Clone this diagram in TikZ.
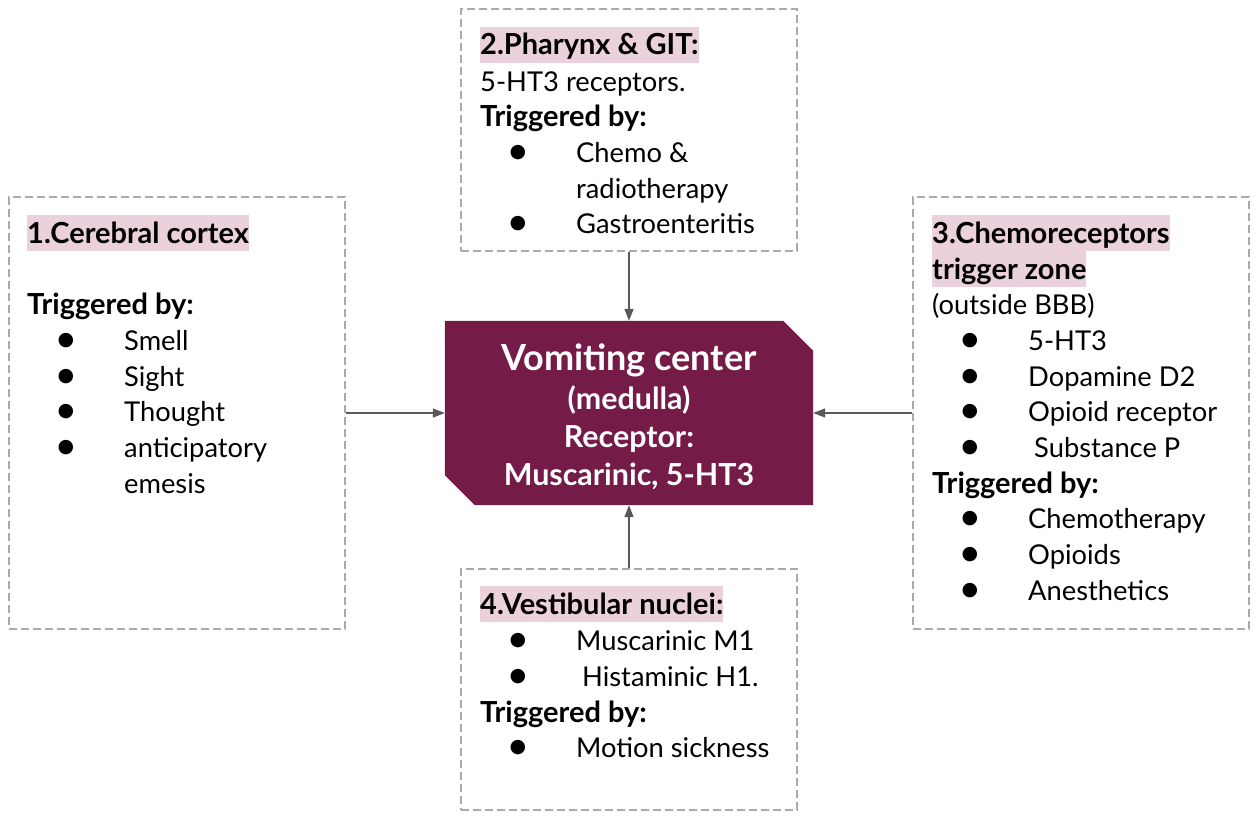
\documentclass[tikz,border=0pt]{standalone}
\usepackage{fontspec}
\setmainfont{Lato}
\newfontfamily\symfont{DejaVu Sans}
\usetikzlibrary{arrows.meta}
\definecolor{hl}{HTML}{EAD1DC}
\definecolor{vcol}{HTML}{741B47}
\definecolor{dashc}{HTML}{AAAAAA}
\definecolor{arrc}{HTML}{595959}
\begin{document}
\begin{tikzpicture}[x=1pt,y=-1pt,
 boxframe/.style={draw=dashc,line width=1.3pt,dash pattern=on 8pt off 4pt,minimum width=336pt,inner sep=0pt},
 txt/.style={anchor=base west,inner sep=0pt,font=\fontsize{27.3}{30}\selectfont},
 hd/.style={anchor=base west,inner sep=0pt,font=\fontsize{29}{32}\selectfont\bfseries},
 ttl/.style={hd,fill=hl,text height=28pt,text depth=8pt},
 bul/.style={anchor=base,inner sep=0pt,yshift=4.5pt,font=\symfont\fontsize{19}{22}\selectfont},
 ctr/.style={anchor=base,inner sep=0pt,text=white,font=\fontsize{30.4}{33}\selectfont\bfseries},
 arr/.style={draw=arrc,line width=1.5pt,-{Triangle[length=12pt,width=9pt]}}]
\useasboundingbox (0,0) rectangle (1257,816);
% frames
\node[boxframe,minimum height=432pt] (b1) at (177,413) {};
\node[boxframe,minimum height=242pt] (b2) at (629,130) {};
\node[boxframe,minimum height=432pt] (b3) at (1081,413) {};
\node[boxframe,minimum height=241pt] (b4) at (629,689.5) {};
% centre
\node[minimum width=368pt,minimum height=184pt,inner sep=0pt] (vc) at (629,413) {};
\fill[vcol] (vc.north west) -- ([xshift=-30pt]vc.north east) -- ([yshift=-30pt]vc.north east)
  -- (vc.south east) -- ([xshift=30pt]vc.south west) -- ([yshift=30pt]vc.south west) -- cycle;
\node[ctr,font=\fontsize{36}{39}\selectfont\bfseries] (v1) at (629,370) {Vomiting center};
\node[ctr] (v2) at (629,409) {(medulla)};
\node[ctr] (v3) at (629,447) {Receptor:};
\node[ctr] (v4) at (629,485) {Muscarinic, 5-HT3};
% arrows
\draw[arr] (b1.east) -- (vc.west);
\draw[arr] (b3.west) -- (vc.east);
\draw[arr] (b2.south) -- (vc.north);
\draw[arr] (b4.north) -- (vc.south);
% box 1
\node[ttl] (t1) at (27,243) {1.Cerebral cortex};
\node[hd] (t1b) at (27,314) {Triggered by:};
\node[bul] (p1a) at (66,350) {●}; \node[txt] (i1a) at (124,350) {Smell};
\node[bul] (p1b) at (66,386) {●}; \node[txt] (i1b) at (124,386) {Sight};
\node[bul] (p1c) at (66,421) {●}; \node[txt] (i1c) at (124,421) {Thought};
\node[bul] (p1d) at (66,457) {●}; \node[txt] (i1d) at (124,457) {anticipatory};
\node[txt] (i1e) at (124,493) {emesis};
% box 2
\node[ttl] (t2) at (480,55) {2.Pharynx \& GIT:};
\node[txt] (t2a) at (480,91) {5-HT3 receptors.};
\node[hd] (t2b) at (480,126) {Triggered by:};
\node[bul] (p2a) at (518,162) {●}; \node[txt] (i2a) at (576,162) {Chemo \&};
\node[txt] (i2b) at (576,198) {radiotherapy};
\node[bul] (p2c) at (518,233) {●}; \node[txt] (i2c) at (576,233) {Gastroenteritis};
% box 3
\node[ttl] (t3) at (932,243) {3.Chemoreceptors};
\node[ttl] (t3a) at (932,279) {trigger zone};
\node[txt] (t3b) at (932,314) {(outside BBB)};
\node[bul] (p3a) at (970,350) {●}; \node[txt] (i3a) at (1028,350) {5-HT3};
\node[bul] (p3b) at (970,386) {●}; \node[txt] (i3b) at (1028,386) {Dopamine D2};
\node[bul] (p3c) at (970,421) {●}; \node[txt] (i3c) at (1028,421) {Opioid receptor};
\node[bul] (p3d) at (970,457) {●}; \node[txt] (i3d) at (1034,457) {Substance P};
\node[hd] (t3c) at (932,493) {Triggered by:};
\node[bul] (p3e) at (970,528) {●}; \node[txt] (i3e) at (1028,528) {Chemotherapy};
\node[bul] (p3f) at (970,564) {●}; \node[txt] (i3f) at (1028,564) {Opioids};
\node[bul] (p3g) at (970,600) {●}; \node[txt] (i3g) at (1028,600) {Anesthetics};
% box 4
\node[ttl] (t4) at (480,614) {4.Vestibular nuclei:};
\node[bul] (p4a) at (518,650) {●}; \node[txt] (i4a) at (576,650) {Muscarinic M1};
\node[bul] (p4b) at (518,686) {●}; \node[txt] (i4b) at (582,686) {Histaminic H1.};
\node[hd] (t4b) at (480,722) {Triggered by:};
\node[bul] (p4c) at (518,757) {●}; \node[txt] (i4c) at (576,757) {Motion sickness};
\end{tikzpicture}
\end{document}
